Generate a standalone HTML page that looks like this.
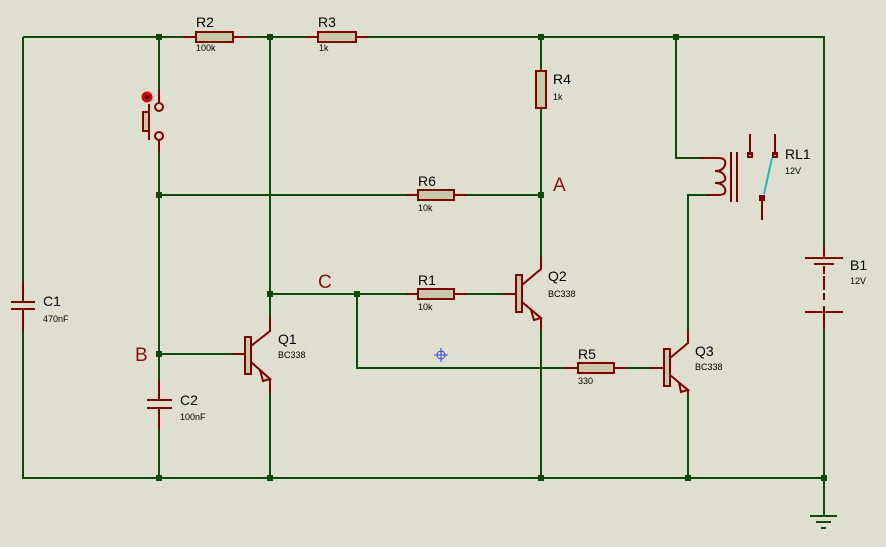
<!DOCTYPE html>
<html><head><style>
html,body{margin:0;padding:0;background:#dfdfd0;}
svg{display:block;}
text{font-family:"Liberation Sans",sans-serif;fill:#000;}
.g{stroke:#0b4a0b;stroke-width:2;fill:none;}
.r{stroke:#800000;stroke-width:2;fill:none;}
.b{stroke:#800000;stroke-width:2;fill:#c8c8ac;}
.j{fill:#0b4a0b;}
.L{font-size:14px;}
.s{font-size:9px;}
.big{font-size:19px;fill:#8b1010;}
</style></head><body>
<svg width="886" height="547" viewBox="0 0 886 547">
<rect width="886" height="547" fill="#dfdfd0"/>
<!-- green wires -->
<path class="g" d="M23,37H184 M246,37H306 M368,37H824 V245 M824,330V515
M23,37V282 M23,331V478H824
M159,37V90 M159,152V380 M159,430V478
M270,37V318 M270,393V478
M541,37V71 M541,108V257 M541,329V478
M159,195H418 M454,195H541
M270,294H418 M454,294H503
M357,294V368H564 M627,368H650
M688,394V478 M688,331V195H707
M676,37V158H700
M233,354H159"/>
<!-- junctions -->
<g class="j">
<rect x="156" y="34" width="6" height="6"/><rect x="267" y="34" width="6" height="6"/><rect x="538" y="34" width="6" height="6"/><rect x="673" y="34" width="6" height="6"/>
<rect x="156" y="192" width="6" height="6"/><rect x="538" y="192" width="6" height="6"/>
<rect x="267" y="291" width="6" height="6"/><rect x="354" y="291" width="6" height="6"/>
<rect x="156" y="351" width="6" height="6"/>
<rect x="156" y="475" width="6" height="6"/><rect x="267" y="475" width="6" height="6"/><rect x="538" y="475" width="6" height="6"/><rect x="685" y="475" width="6" height="6"/><rect x="821" y="475" width="6" height="6"/>
</g>
<!-- resistors -->
<path class="r" d="M184,37H246 M306,37H368 M541,71V108 M406,195H466 M406,294H466 M564,368H627 M503,294H516 M650,368H664 M233,354H245"/>
<rect class="b" x="196" y="32" width="37" height="10"/>
<rect class="b" x="318" y="32" width="38" height="10"/>
<rect class="b" x="536" y="71" width="10" height="37"/>
<rect class="b" x="418" y="190" width="36" height="10"/>
<rect class="b" x="418" y="289" width="36" height="10"/>
<rect class="b" x="578" y="363" width="36" height="10"/>
<!-- switch -->
<path class="r" d="M159,90V103 M159,140V152 M149,104V140"/>
<circle class="r" cx="159" cy="107" r="4" fill="#dfdfd0"/>
<circle class="r" cx="159" cy="136" r="4" fill="#dfdfd0"/>
<rect class="b" x="143" y="112" width="6" height="19"/>
<circle cx="147" cy="97" r="5" fill="#c00" stroke="#e00" stroke-width="1"/>
<circle cx="147" cy="97" r="2" fill="#400"/>
<!-- capacitors -->
<path class="r" d="M23,282V302 M23,309V331 M11,302H35 M11,309H35 M159,380V400 M159,408V430 M147,400H172 M147,408H172"/>
<!-- transistors -->
<rect class="b" x="245" y="337" width="6" height="37"/>
<path class="r" d="M251,346L270,331V318 M251,362L270,379V393"/>
<path class="r" d="M260,370L270,379L263,381Z" fill="#c8c8ac"/>
<rect class="b" x="516" y="275" width="6" height="37"/>
<path class="r" d="M522,285L541,269V257 M522,302L541,318V329"/>
<path class="r" d="M531,310L541,318L534,320Z" fill="#c8c8ac"/>
<rect class="b" x="664" y="349" width="6" height="37"/>
<path class="r" d="M670,358L688,343V331 M670,375L688,390V394"/>
<path class="r" d="M679,383L688,390L681,392Z" fill="#c8c8ac"/>
<!-- relay -->
<path class="r" d="M700,158H718 Q727,158 725,165 Q723,171 715,171 Q723,171 725,177 Q727,183 715,183 Q723,183 725,189 Q727,195 718,195 H707"/>
<path class="r" d="M731,152V202 M737,152V202 M750,134V155 M775,134V155 M762,197V220"/>
<rect class="r" x="748" y="153" width="4" height="4" stroke-width="1.5"/>
<rect class="r" x="773" y="153" width="4" height="4" stroke-width="1.5"/>
<rect class="r" x="760" y="196" width="4" height="4" stroke-width="1.5"/>
<path d="M772,158L764,194" stroke="#20b8c8" stroke-width="2"/>
<!-- battery -->
<path class="r" d="M824,245V258 M805,258H843 M814,264H834 M824,266V312 M805,312H843 M824,312V330" />
<path d="M824,266V312" stroke="#dfdfd0" stroke-width="3" stroke-dasharray="0 4 6 0"/>
<path class="r" d="M824,267V274 M824,280V287 M824,293V300 M824,306V312"/>
<!-- ground -->
<path class="g" d="M810,516H837 M816,522H831 M821,528H826" stroke-width="2"/>
<!-- marker -->
<g stroke="#3040e0" stroke-width="1" fill="none"><circle cx="441" cy="355" r="4"/><path d="M434,355H448 M441,348V362"/></g>
<!-- labels -->
<text class="L" x="196" y="27">R2</text><text class="s" x="196" y="51">100k</text>
<text class="L" x="318" y="27">R3</text><text class="s" x="319" y="51">1k</text>
<text class="L" x="553" y="84">R4</text><text class="s" x="553" y="100">1k</text>
<text class="L" x="418" y="186">R6</text><text class="s" x="418" y="211">10k</text>
<text class="L" x="418" y="285">R1</text><text class="s" x="418" y="310">10k</text>
<text class="L" x="578" y="359">R5</text><text class="s" x="578" y="384">330</text>
<text class="L" x="43" y="306">C1</text><text class="s" x="43" y="322">470nF</text>
<text class="L" x="180" y="405">C2</text><text class="s" x="180" y="420">100nF</text>
<text class="L" x="278" y="344">Q1</text><text class="s" x="278" y="358">BC338</text>
<text class="L" x="548" y="281">Q2</text><text class="s" x="548" y="297">BC338</text>
<text class="L" x="695" y="356">Q3</text><text class="s" x="695" y="370">BC338</text>
<text class="L" x="785" y="159">RL1</text><text class="s" x="785" y="174">12V</text>
<text class="L" x="850" y="270">B1</text><text class="s" x="850" y="284">12V</text>
<text class="big" x="553" y="191">A</text>
<text class="big" x="135" y="361">B</text>
<text class="big" x="318" y="288">C</text>
</svg>
</body></html>
